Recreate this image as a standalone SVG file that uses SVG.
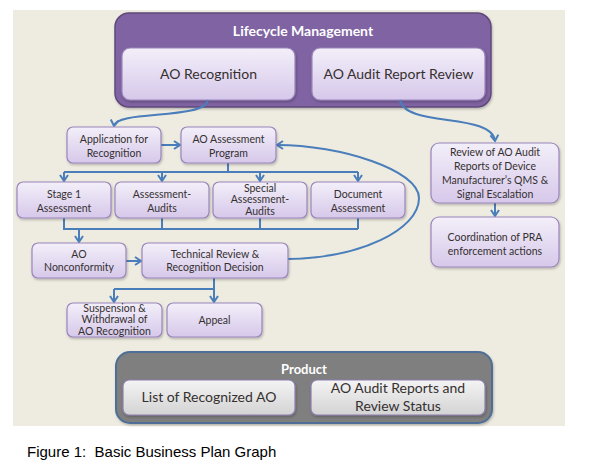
<svg xmlns="http://www.w3.org/2000/svg" width="596" height="464" viewBox="0 0 596 464">
<defs>
<linearGradient id="gPurple" x1="0" y1="0" x2="0" y2="1">
<stop offset="0" stop-color="#F3EFF9"/>
<stop offset="1" stop-color="#D6C8EA"/>
</linearGradient>
<linearGradient id="gGray" x1="0" y1="0" x2="0" y2="1">
<stop offset="0" stop-color="#F4F4F4"/>
<stop offset="1" stop-color="#D3D3D3"/>
</linearGradient>
<filter id="sh" x="-10%" y="-10%" width="130%" height="140%">
<feDropShadow dx="0.8" dy="1.5" stdDeviation="1" flood-color="#000" flood-opacity="0.25"/>
</filter>
<marker id="ar" viewBox="0 0 10 10" refX="7" refY="5" markerWidth="10" markerHeight="10" markerUnits="userSpaceOnUse" orient="auto">
<path d="M1,1 L7,5 L1,9" fill="none" stroke="#4A7EBB" stroke-width="2"/>
</marker>
<style>
.t{font-family:Lato,"Liberation Sans",sans-serif;fill:#353030;text-anchor:middle}
.s{font-size:10.5px}
.m{font-size:14px}
.h{font-family:Lato,"Liberation Sans",sans-serif;font-weight:bold;fill:#FFFFFF;text-anchor:middle;font-size:14px}
.n{fill:url(#gPurple);stroke:#9A85BC;stroke-width:1.2;filter:url(#sh)}
.g{fill:url(#gGray);stroke:#8E7FAE;stroke-width:1.2;filter:url(#sh)}
.c{fill:none;stroke:#4A7EBB;stroke-width:2}
.a{fill:none;stroke:#4A7EBB;stroke-width:2;marker-end:url(#ar)}
</style>
</defs>
<rect x="13" y="10" width="552" height="416" fill="#EEECE1"/>

<g id="lifecycle">
<rect x="115" y="13" width="376" height="94" rx="14" fill="#8064A2" stroke="#5F497A" stroke-width="1.5" filter="url(#sh)"/>
<text class="h" x="303" y="36">Lifecycle Management</text>
</g>
<g id="ao-recognition">
<rect class="n" x="122" y="48" width="173" height="52" rx="8"/>
<text class="t m" x="208.5" y="79">AO Recognition</text>
</g>
<g id="ao-audit-report-review">
<rect class="n" x="312" y="48" width="173" height="52" rx="8"/>
<text class="t m" x="398.5" y="79">AO Audit Report Review</text>
</g>

<g id="connectors">
<path class="a" d="M208,100 C205,120 116,110 114,126"/>
<path class="a" d="M400,100 C405,128 492,112 495,141"/>
<path class="a" d="M161,145 H180"/>
<path class="c" d="M228,163 V172 M64,172 H358"/>
<path class="a" d="M64,172 V181"/>
<path class="a" d="M162,172 V181"/>
<path class="a" d="M260,172 V181"/>
<path class="a" d="M358,172 V181"/>
<path class="c" d="M64,218 V229 H358 M162,218 V229 M260,218 V229 M358,218 V229"/>
<path class="a" d="M79,229 V242"/>
<path class="a" d="M126,261 H141"/>
<path class="a" d="M288,259 C360,258 419,230 419,198 C419,170 340,145 277,145"/>
<path class="c" d="M214,278 V289 M114,289 H214"/>
<path class="a" d="M114,289 V302"/>
<path class="a" d="M214,289 V302"/>
<path class="a" d="M495,203 V216"/>
</g>

<g id="application">
<rect class="n" x="67" y="127" width="94" height="36" rx="6"/>
<text class="t s" x="114" y="142.5">Application for</text>
<text class="t s" x="114" y="156.5">Recognition</text>
</g>
<g id="assessment-program">
<rect class="n" x="181" y="127" width="95" height="36" rx="6"/>
<text class="t s" x="228.5" y="142.5">AO Assessment</text>
<text class="t s" x="228.5" y="156.5">Program</text>
</g>
<g id="stage1">
<rect class="n" x="17" y="182" width="94" height="36" rx="6"/>
<text class="t s" x="64" y="197.5">Stage 1</text>
<text class="t s" x="64" y="211.5">Assessment</text>
</g>
<g id="assessment-audits">
<rect class="n" x="115" y="182" width="94" height="36" rx="6"/>
<text class="t s" x="162" y="197.5">Assessment-</text>
<text class="t s" x="162" y="211.5">Audits</text>
</g>
<g id="special">
<rect class="n" x="213" y="182" width="94" height="36" rx="6"/>
<text class="t s" x="260" y="191.5">Special</text>
<text class="t s" x="260" y="203">Assessment-</text>
<text class="t s" x="260" y="214.5">Audits</text>
</g>
<g id="document">
<rect class="n" x="311" y="182" width="94" height="36" rx="6"/>
<text class="t s" x="358" y="197.5">Document</text>
<text class="t s" x="358" y="211.5">Assessment</text>
</g>
<g id="nonconformity">
<rect class="n" x="32" y="243" width="94" height="35" rx="6"/>
<text class="t s" x="79" y="257.5">AO</text>
<text class="t s" x="79" y="271">Nonconformity</text>
</g>
<g id="technical-review">
<rect class="n" x="142" y="243" width="146" height="35" rx="6"/>
<text class="t s" x="215" y="257.5">Technical Review &amp;</text>
<text class="t s" x="215" y="271">Recognition Decision</text>
</g>
<g id="suspension">
<rect class="n" x="67" y="303" width="95" height="34" rx="6"/>
<text class="t s" x="114.5" y="311.5">Suspension &amp;</text>
<text class="t s" x="114.5" y="323">Withdrawal of</text>
<text class="t s" x="114.5" y="334.5">AO Recognition</text>
</g>
<g id="appeal">
<rect class="n" x="167" y="303" width="95" height="34" rx="6"/>
<text class="t s" x="214.5" y="323.5">Appeal</text>
</g>
<g id="review-reports">
<rect class="n" x="431" y="143" width="128" height="60" rx="8"/>
<text class="t s" x="495" y="156">Review of AO Audit</text>
<text class="t s" x="495" y="170">Reports of Device</text>
<text class="t s" x="495" y="184">Manufacturer’s QMS &amp;</text>
<text class="t s" x="495" y="197.5">Signal Escalation</text>
</g>
<g id="coordination">
<rect class="n" x="431" y="217" width="128" height="50" rx="8"/>
<text class="t s" x="495" y="241">Coordination of PRA</text>
<text class="t s" x="495" y="254.5">enforcement actions</text>
</g>

<g id="product">
<rect x="116" y="352" width="376" height="71" rx="14" fill="#7F7F7F" stroke="#4F6E96" stroke-width="2" filter="url(#sh)"/>
<text class="h" x="304" y="374" style="font-size:13px">Product</text>
</g>
<g id="list-recognized">
<rect class="g" x="123" y="380" width="172" height="35" rx="6"/>
<text class="t m" x="209" y="402">List of Recognized AO</text>
</g>
<g id="audit-reports-status">
<rect class="g" x="311" y="380" width="174" height="35" rx="6"/>
<text class="t m" x="398" y="393">AO Audit Reports and</text>
<text class="t m" x="398" y="411">Review Status</text>
</g>

<text x="27" y="457" xml:space="preserve" style="font-family:'Liberation Sans',Arial,sans-serif;font-size:15px;fill:#000;white-space:pre">Figure 1:  Basic Business Plan Graph</text>
</svg>
